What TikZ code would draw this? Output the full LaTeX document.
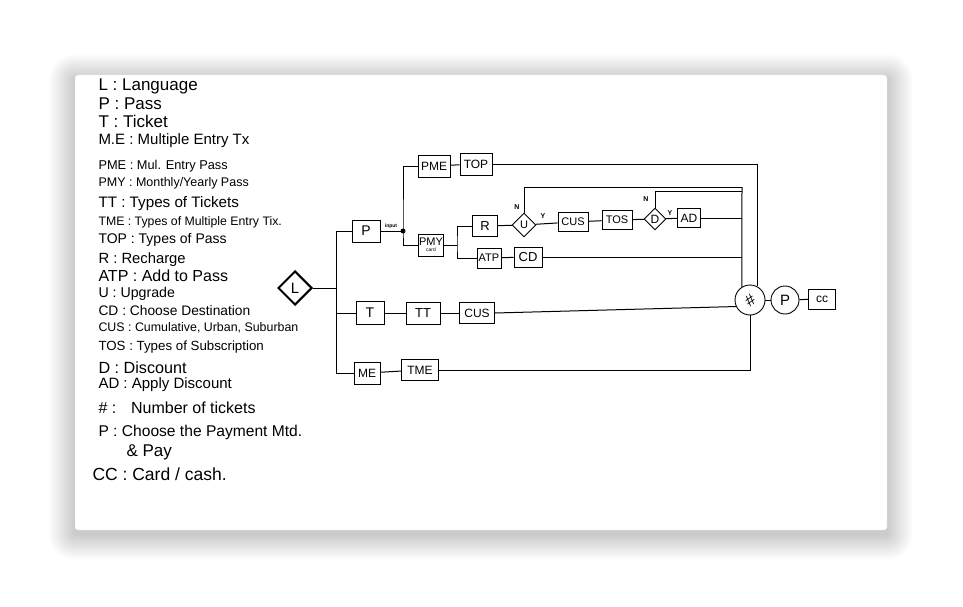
\documentclass[tikz,border=0pt]{standalone}
\usepackage{fontspec}
\setmainfont{Liberation Sans}
\usetikzlibrary{shapes.geometric}
\begin{document}
\begin{tikzpicture}[x=1pt,y=-1pt,line width=1pt,
  legend/.style={anchor=west,inner sep=0pt,font=\fontsize{#1}{#1}\selectfont},
  box/.style={draw,line width=0.9pt,inner sep=0pt,minimum height=21,font=\fontsize{12}{12}\selectfont},
  dia/.style={draw,diamond,shape aspect=1,inner sep=0pt,line width=0.9pt,font=\fontsize{11}{11}\selectfont},
  circ/.style={draw,circle,inner sep=0pt,line width=0.9pt,minimum size=29},
  tag/.style={inner sep=0pt,font=\fontsize{7}{7}\selectfont\bfseries}]
\useasboundingbox (0,0) rectangle (963,607);
\fill[white] (0,0) rectangle (963,607);
% soft shadow of the card
\foreach \i in {1,...,26}{
  \fill[black,opacity=0.0075,rounded corners=\i] (75-\i,80-\i) rectangle (887+\i,534+\i);
}
\fill[white,rounded corners=3] (75,75) rectangle (887,530);
\draw[black!10,line width=0.4pt,rounded corners=3] (75,75) rectangle (887,530);

% legend
\node[legend=17] (lg1) at (98,86) {L : Language};
\node[legend=17] (lg2) at (98,104) {P : Pass};
\node[legend=17] (lg3) at (98,121) {T : Ticket};
\node[legend=15] (lg4) at (98,141) {M.E : Multiple Entry Tx};
\node[legend=12.8] (lg5) at (98,166) {PME : Mul. Entry Pass};
\node[legend=12.5] (lg6) at (98,183) {PMY : Monthly/Yearly Pass};
\node[legend=15.2] (lg7) at (98,204) {TT : Types of Tickets};
\node[legend=12.3] (lg8) at (98,222) {TME : Types of Multiple Entry Tix.};
\node[legend=14] (lg9) at (98,240) {TOP : Types of Pass};
\node[legend=14.8] (lg10) at (98,260) {R : Recharge};
\node[legend=16] (lg11) at (98,276) {ATP : Add to Pass};
\node[legend=14.2] (lg12) at (98,294) {U : Upgrade};
\node[legend=13.8] (lg13) at (98,311) {CD : Choose Destination};
\node[legend=12.4] (lg14) at (98,328) {CUS : Cumulative, Urban, Suburban};
\node[legend=13.3] (lg15) at (98,347) {TOS : Types of Subscription};
\node[legend=16.2] (lg16) at (98,368) {D : Discount};
\node[legend=15] (lg17) at (98,385) {AD : Apply Discount};
\node[legend=16] (lg18) at (98,408) {\# : \ \ Number of tickets};
\node[legend=15.6] (lg19) at (98,432) {P : Choose the Payment Mtd.};
\node[legend=17] (lg20) at (126,452) {\& Pay};
\node[legend=17.5] (lg21) at (92,474) {CC : Card / cash.};

% nodes
\node[dia,line width=2pt,minimum size=34,font=\fontsize{15}{15}\selectfont] (L) at (295,288) {L};
\node[box,minimum width=28,minimum height=22,font=\fontsize{14}{14}\selectfont] (P) at (366,231) {P};
\node[box,minimum width=28,minimum height=23,font=\fontsize{14}{14}\selectfont] (T) at (370,313) {T};
\node[box,minimum width=26,minimum height=22] (ME) at (367,373) {ME};
\node[box,minimum width=32,minimum height=22] (PME) at (434,166) {PME};
\node[box,minimum width=32,minimum height=22] (TOP) at (476,164) {TOP};
\node[box,minimum width=25,minimum height=22] (PMY) at (431,245) {\shortstack{{\fontsize{11}{11}\selectfont PMY}\\[-1pt]{\fontsize{5}{5}\selectfont card}}};
\node[box,minimum width=25,minimum height=21,font=\fontsize{13}{13}\selectfont] (R) at (485,226) {R};
\node[dia,minimum size=24] (U) at (524,225) {U};
\node[box,minimum width=30,minimum height=19,font=\fontsize{11}{11}\selectfont] (CUSa) at (573,222) {CUS};
\node[box,minimum width=30,minimum height=19,font=\fontsize{11}{11}\selectfont] (TOS) at (617,220) {TOS};
\node[dia,minimum size=22,font=\fontsize{12}{12}\selectfont] (D) at (655,219) {D};
\node[box,minimum width=23,minimum height=19] (AD) at (689,218) {AD};
\node[box,minimum width=24,minimum height=20,font=\fontsize{11}{11}\selectfont] (ATP) at (489,258) {ATP};
\node[box,minimum width=28,minimum height=20,font=\fontsize{13}{13}\selectfont] (CD) at (528,257) {CD};
\node[box,minimum width=34,minimum height=22,font=\fontsize{13}{13}\selectfont] (TT) at (423,313) {TT};
\node[box,minimum width=35,minimum height=21] (CUSb) at (477,313) {CUS};
\node[box,minimum width=37,minimum height=21] (TME) at (420,370) {TME};
\node[circ,minimum size=30] (M) at (750,300) {\rotatebox{35}{\fontsize{16}{16}\selectfont\#}};
\node[circ,minimum size=28,font=\fontsize{15}{15}\selectfont] (PP) at (785,300) {P};
\node[box,minimum width=27,minimum height=20] (CC) at (822,299) {cc};

% helper coordinates
\coordinate (tr) at (336,288);
\coordinate (J) at (403,231);
\coordinate (k) at (457,245);
\coordinate (c1) at (742,187);
\coordinate (c2) at (742,191);

% connectors
\draw (L.east) -- (tr);
\draw (P.west) -- (P.west -| tr) |- (ME.west);
\draw (T.west) -- (T.west -| tr);
\draw (P.east) -- (J);
\fill (J) circle (2.5);
\node[tag,font=\fontsize{5}{5}\selectfont\bfseries] (inp) at (391,226) {input};
\draw (PME.west) -| (J) |- (PMY.west);
\draw (PME) -- (TOP);
\draw (TOP.east) -| (M.62);
\draw (PMY.east) -- (k);
\draw (R.west) -| (k) |- (ATP.west);
\draw (R) -- (U);
\draw (U) -- (CUSa);
\draw (CUSa) -- (TOS);
\draw (TOS) -- (D);
\draw (D) -- (AD);
\draw (U.north) |- (c1);
\draw (D.north) |- (c2);
\draw (c1) -- (M.122);
\draw (AD.east) -- (AD.east -| c1);
\draw (ATP) -- (CD);
\draw (CD.east) -- (CD.east -| c1);
\draw (T) -- (TT);
\draw (TT) -- (CUSb);
\draw (CUSb.east) -- (M.205);
\draw (ME) -- (TME);
\draw (TME.east) -| (M.south);
\draw (M) -- (PP);
\draw (PP) -- (CC);

% branch labels
\node[tag] (nU) at (517,207) {N};
\node[tag] (yU) at (543,216) {Y};
\node[tag] (nD) at (646,199) {N};
\node[tag] (yD) at (670,213) {Y};
\end{tikzpicture}
\end{document}
